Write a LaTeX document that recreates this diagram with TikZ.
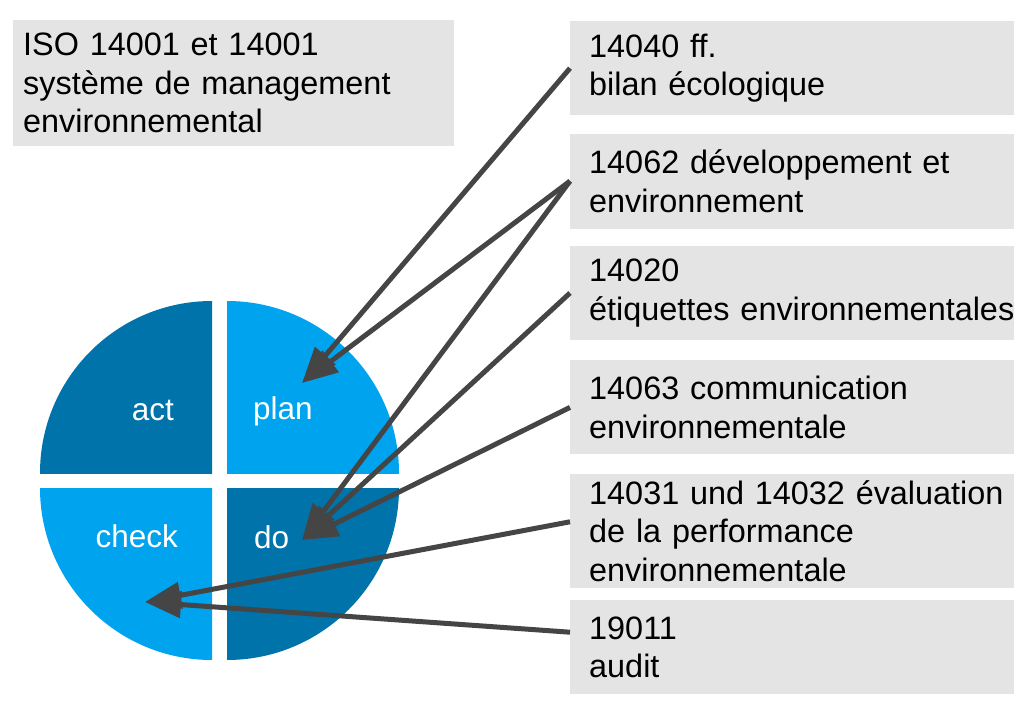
\documentclass[tikz,border=0pt]{standalone}
\usepackage{fontspec}
\setmainfont{Liberation Sans}
\usepackage{xcolor}
\usetikzlibrary{arrows.meta,positioning}
\definecolor{boxgray}{RGB}{228,228,228}
\definecolor{lightblue}{RGB}{0,163,238}
\definecolor{darkblue}{RGB}{0,115,170}
\definecolor{arrowgray}{RGB}{69,69,69}

\begin{document}
\begin{tikzpicture}[x=1pt, y=-1pt, node distance=18pt, font=\fontsize{32.4}{38.5}\selectfont]
\tikzstyle{box}=[fill=boxgray, align=left, anchor=north west, text width=406pt, inner xsep=19pt, inner ysep=0pt, minimum height=94pt]
\tikzstyle{lbl}=[text=white, inner sep=0pt, font=\fontsize{31.5}{36}\selectfont]
\tikzstyle{link}=[draw=arrowgray, line width=5pt, -{Triangle[length=36pt, width=26pt]}]

\useasboundingbox (0,0) rectangle (1024,714);

\node[box, text width=421pt, inner xsep=10pt, minimum height=126pt] (iso) at (13,20) {ISO 14001 et 14001\\système de management\\environnemental};

% standards on the right
\node[box] (bilan) at (570,21) {14040 ff.\\bilan écologique};
\node[box, below=18pt of bilan, minimum height=95pt] (dev) {14062 développement et\\environnement};
\node[box, below=17pt of dev] (label) {14020\\\mbox{étiquettes environnementales}};
\node[box, below=20pt of label] (comm) {14063 communication\\environnementale};
\node[box, below=19pt of comm, minimum height=114pt] (perf) {\mbox{14031 und 14032 évaluation}\\de la performance\\environnementale};
\node[box, below=12pt of perf] (audit) {19011\\audit};

% PDCA circle
\begin{scope}
\clip (212,473) rectangle (38,299);
\fill[darkblue] (212,473) circle (172);
\end{scope}
\begin{scope}
\clip (227,473) rectangle (401,299);
\fill[lightblue] (227,473) circle (172);
\end{scope}
\begin{scope}
\clip (212,488) rectangle (38,662);
\fill[lightblue] (212,488) circle (172);
\end{scope}
\begin{scope}
\clip (227,488) rectangle (401,662);
\fill[darkblue] (227,488) circle (172);
\end{scope}

\node[lbl, anchor=base east] (act) at (174,420) {act};
\node[lbl, anchor=base west] (plan) at (253,419) {plan};
\node[lbl, anchor=base east] (check) at (178,547) {check};
\node[lbl, anchor=base west] (do) at (254,548) {do};

\coordinate (plan tip) at (302,383);
\coordinate (do tip) at (302,540);
\coordinate (check tip) at (145,602);

\draw[link] (bilan.west) -- (plan tip);
\draw[link] (dev.west) -- (plan tip);
\draw[link] (dev.west) -- (do tip);
\draw[link] (label.west) -- (do tip);
\draw[link] (comm.west) -- (do tip);
\draw[link] ([yshift=9pt]perf.west) -- (check tip);
\draw[link] ([yshift=15pt]audit.west) -- (check tip);
\end{tikzpicture}
\end{document}
